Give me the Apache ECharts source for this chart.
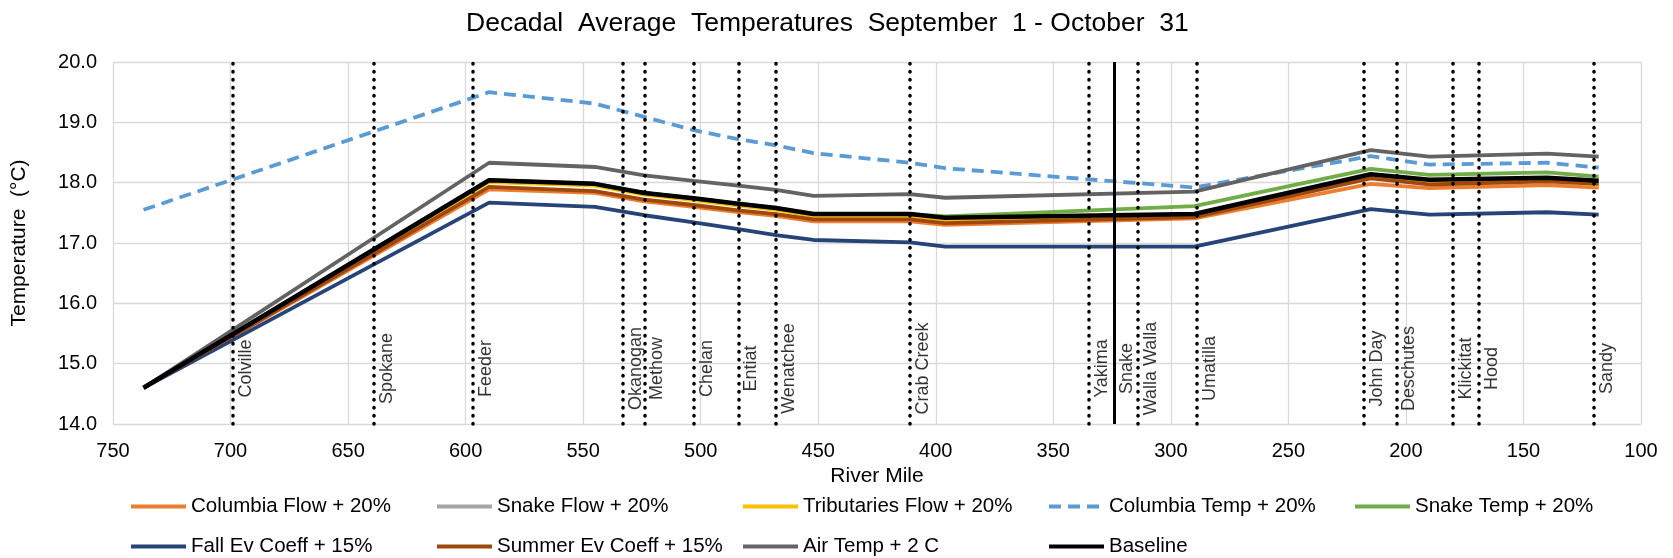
<!DOCTYPE html>
<html>
<head>
<meta charset="utf-8">
<script src="https://cdn.jsdelivr.net/npm/echarts@6/dist/echarts.min.js"></script>
<style>
  html, body { margin: 0; padding: 0; background: #fff; }
  #chart { width: 1673px; height: 558px; }
</style>
</head>
<body>
<div id="chart"></div>
<script>
// river miles where the lines bend
const miles = [737, 590, 545, 524, 503, 484, 468, 452, 411, 396, 290, 215, 190, 140, 118];

const colFlow   = [14.6, 17.89, 17.83, 17.69, 17.60, 17.51, 17.45, 17.36, 17.36, 17.30, 17.41, 17.98, 17.91, 17.96, 17.92];
const snakeFlow = [14.6, 18.04, 17.98, 17.83, 17.74, 17.65, 17.58, 17.48, 17.48, 17.42, 17.46, 18.11, 18.03, 18.06, 18.01];
const tribFlow  = [14.6, 18.01, 17.95, 17.80, 17.71, 17.62, 17.55, 17.45, 17.45, 17.39, 17.45, 18.10, 18.01, 18.05, 17.96];
const colTemp   = [17.55, 19.50, 19.31, 19.09, 18.87, 18.72, 18.62, 18.49, 18.33, 18.24, 17.92, 18.44, 18.30, 18.33, 18.25];
const snakeTemp = [14.6, 18.04, 17.98, 17.83, 17.74, 17.65, 17.58, 17.48, 17.48, 17.44, 17.61, 18.23, 18.13, 18.17, 18.10];
const fallEv    = [14.6, 17.67, 17.60, 17.46, 17.34, 17.23, 17.13, 17.05, 17.01, 16.94, 16.94, 17.56, 17.47, 17.51, 17.47];
const summerEv  = [14.6, 17.93, 17.86, 17.72, 17.63, 17.54, 17.48, 17.39, 17.39, 17.33, 17.43, 18.07, 17.97, 18.02, 17.98];
const airTemp   = [14.6, 18.33, 18.26, 18.12, 18.03, 17.95, 17.88, 17.78, 17.81, 17.75, 17.85, 18.54, 18.43, 18.48, 18.43];
const baseline  = [14.6, 18.04, 17.98, 17.83, 17.74, 17.65, 17.58, 17.48, 17.48, 17.42, 17.48, 18.14, 18.05, 18.08, 18.03];

// tributary confluences
const tribNames = ['Colville', 'Spokane', 'Feeder', 'Okanogan', 'Methow', 'Chelan', 'Entiat', 'Wenatchee', 'Crab Creek',
  'Yakima', 'Snake', 'Walla Walla', 'Umatilla', 'John Day', 'Deschutes', 'Klickitat', 'Hood', 'Sandy'];
const tribMiles = [699, 639, 597, 533, 524, 503, 484, 468, 411, 335, 324, 314, 289, 218, 204, 180, 169, 120];

const FONT = 'Liberation Sans, Arial, sans-serif';
const labelY = 14.92;

const seriesDefs = [
  { name: 'Columbia Flow + 20%', data: colFlow, color: '#ED7D31' },
  { name: 'Snake Flow + 20%', data: snakeFlow, color: '#A5A5A5' },
  { name: 'Tributaries Flow + 20%', data: tribFlow, color: '#FFC000' },
  { name: 'Columbia Temp + 20%', data: colTemp, color: '#5B9BD5', dash: true },
  { name: 'Snake Temp + 20%', data: snakeTemp, color: '#70AD47' },
  { name: 'Fall Ev Coeff + 15%', data: fallEv, color: '#264478' },
  { name: 'Summer Ev Coeff + 15%', data: summerEv, color: '#9E480E' },
  { name: 'Air Temp + 2 C', data: airTemp, color: '#636363' },
  { name: 'Baseline', data: baseline, color: '#000000', width: 4.5 }
];

const lineSeries = seriesDefs.map(s => ({
  name: s.name,
  type: 'line',
  data: miles.map((m, i) => [m, s.data[i]]),
  symbol: 'none',
  color: s.color,
  lineStyle: { color: s.color, width: s.width || 3.8, type: s.dash ? [12, 7] : 'solid' }
}));

const labelSeries = {
  name: 'tribs',
  type: 'scatter',
  symbolSize: 0,
  silent: true,
  data: tribMiles.map((m, i) => ({ value: [m, labelY], name: tribNames[i] })),
  label: {
    show: true,
    formatter: p => p.name,
    rotate: 90,
    position: 'inside',
    offset: [0, 13],
    color: '#000',
    fontSize: 18,
    fontFamily: FONT
  },
  markLine: {
    silent: true,
    symbol: 'none',
    label: { show: false },
    data: tribMiles.map((m, i) => ({
      xAxis: m,
      lineStyle: tribNames[i] === 'Snake'
        ? { color: '#000', width: 3, type: 'solid' }
        : { color: '#000', width: 3.5, type: [0.5, 7.5], cap: 'round' }
    }))
  }
};

// one legend block per item so the columns line up like the original
const legends = seriesDefs.map((s, i) => {
  const row = i < 5 ? 0 : 1;
  const col = i < 5 ? i : i - 5;
  return {
    data: [s.name],
    left: 129 + col * 306,
    top: row === 0 ? 496 : 536,
    padding: 0,
    itemWidth: 55,
    itemHeight: 22,
    itemGap: 0,
    itemStyle: { opacity: 0 },
    lineStyle: { width: 4 },
    textStyle: { fontSize: 20.5, fontFamily: FONT, color: '#000' },
    selectedMode: false
  };
});

const chart = echarts.init(document.getElementById('chart'));
chart.setOption({
  animation: false,
  title: {
    text: 'Decadal  Average  Temperatures  September  1 - October  31',
    left: 461,
    top: 5,
    textStyle: { fontSize: 26.5, fontWeight: 'normal', fontFamily: FONT, color: '#000' }
  },
  legend: legends,
  grid: { left: 113, right: 32, top: 62, bottom: 134 },
  xAxis: {
    type: 'value',
    min: 100,
    max: 750,
    interval: 50,
    inverse: true,
    name: 'River Mile',
    nameLocation: 'middle',
    nameGap: 39,
    nameTextStyle: { fontSize: 21, fontFamily: FONT, color: '#000' },
    axisLine: { show: false },
    axisTick: { show: false },
    axisLabel: { fontSize: 20, fontFamily: FONT, color: '#000', margin: 17 },
    splitLine: { show: true, lineStyle: { color: '#D9D9D9', width: 1.3 } }
  },
  yAxis: {
    type: 'value',
    min: 14,
    max: 20,
    interval: 1,
    name: 'Temperature  (°C)',
    nameLocation: 'middle',
    nameGap: 83,
    nameTextStyle: { fontSize: 21, fontFamily: FONT, color: '#000' },
    axisLine: { show: false },
    axisTick: { show: false },
    axisLabel: { fontSize: 20, fontFamily: FONT, color: '#000', margin: 16, formatter: v => v.toFixed(1) },
    splitLine: { show: true, lineStyle: { color: '#D9D9D9', width: 1.3 } }
  },
  series: lineSeries.concat([labelSeries])
});
</script>
</body>
</html>
